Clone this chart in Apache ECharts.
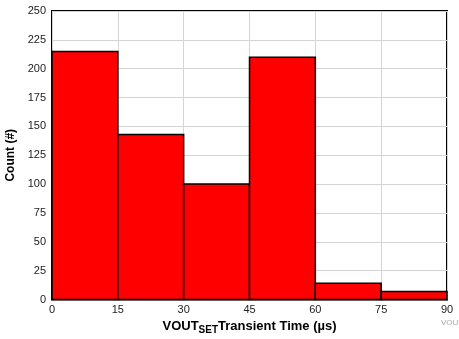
<!DOCTYPE html>
<html><head><meta charset="utf-8">
<script src="https://cdn.jsdelivr.net/npm/echarts@6/dist/echarts.min.js"></script>
<style>html,body{margin:0;padding:0;background:#fff}#c{width:459px;height:339px}</style>
</head><body><div id="c"></div>
<script>
const binStarts = [0, 15, 30, 45, 60, 75];
const binEnds = [15, 30, 45, 60, 75, 90];
const counts = [215, 143, 100, 210, 14, 7];
const xTicks = [0, 15, 30, 45, 60, 75, 90];
const yTicks = [0, 25, 50, 75, 100, 125, 150, 175, 200, 225, 250];

const data = binStarts.map((s, i) => [s, binEnds[i], counts[i]]);
const chart = echarts.init(document.getElementById('c'));
const font = 'Liberation Sans, Arial, Helvetica, sans-serif';
chart.setOption({
  animation: false,
  grid: {left: 52, right: 12, top: 11, bottom: 39.5, containLabel: false, outerBoundsMode: 'none',
    show: true, borderColor: '#000', borderWidth: 2, backgroundColor: 'transparent'},
  xAxis: {
    type: 'value', min: xTicks[0], max: xTicks[xTicks.length-1], interval: 15,
    axisLine: {show: false}, axisTick: {show: false},
    splitLine: {show: true, lineStyle: {color: '#d4d4d4', width: 1}},
    axisLabel: {color: '#222', fontFamily: font, fontSize: 11, margin: 5},
    name: '{b|VOUT}{s|SET}{b|Transient Time (µs)}', nameLocation: 'middle', nameGap: 18,
    nameTextStyle: {rich: {
      b: {fontFamily: font, fontSize: 13, fontWeight: 'bold', color: '#000'},
      s: {fontFamily: font, fontSize: 10, fontWeight: 'bold', color: '#000', padding: [6, 0, 0, 0]}
    }}
  },
  yAxis: {
    type: 'value', min: yTicks[0], max: yTicks[yTicks.length-1], interval: 25,
    axisLine: {show: false}, axisTick: {show: false},
    splitLine: {show: true, lineStyle: {color: '#d4d4d4', width: 1}},
    axisLabel: {color: '#222', fontFamily: font, fontSize: 11, margin: 6},
    name: 'Count (#)', nameLocation: 'middle', nameGap: 31,
    nameTextStyle: {fontFamily: font, fontSize: 12, fontWeight: 'bold', color: '#000'}
  },
  series: [{
    type: 'custom',
    data: data,
    encode: {x: [0, 1], y: 2},
    renderItem: function (params, api) {
      const p0 = api.coord([api.value(0), api.value(2)]);
      const p1 = api.coord([api.value(1), 0]);
      return {
        type: 'rect',
        shape: {x: p0[0], y: p0[1], width: p1[0] - p0[0], height: p1[1] - p0[1]},
        style: {fill: '#ff0000', stroke: '#000', lineWidth: 1.5}
      };
    }
  }],
  graphic: [{
    type: 'text', left: 441, top: 319,
    style: {text: 'VOUT_', fill: '#aaa', font: '8px ' + font}
  }]
});
</script></body></html>
